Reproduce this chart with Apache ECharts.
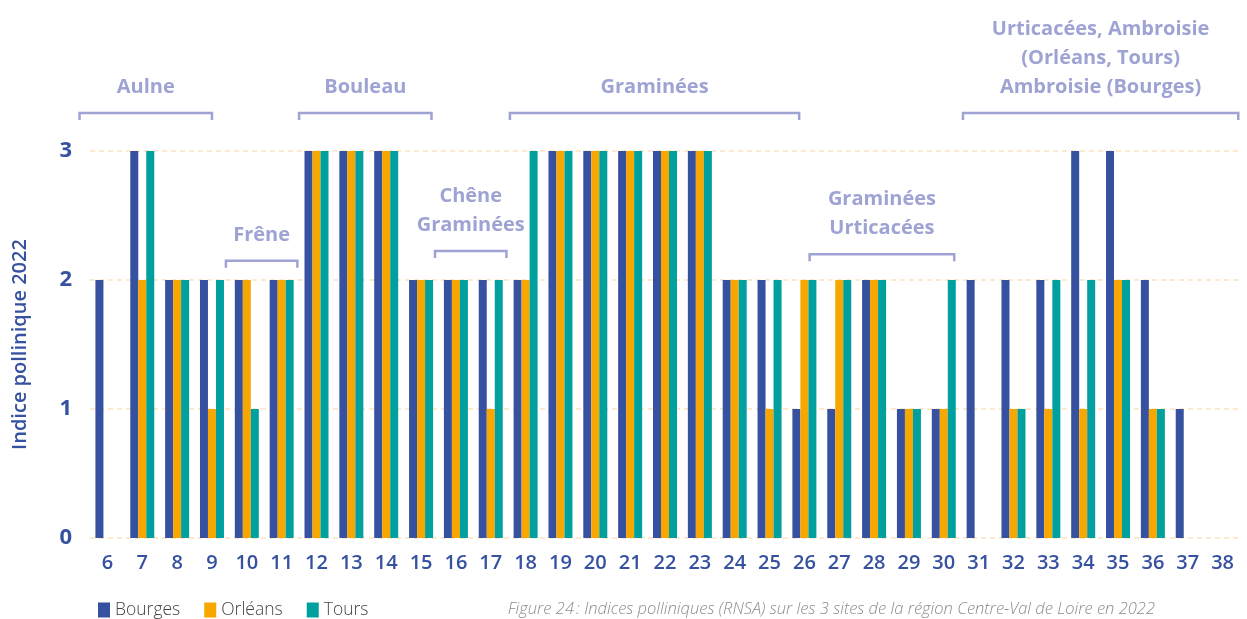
<!DOCTYPE html>
<html>
<head>
<meta charset="utf-8">
<script src="https://cdn.jsdelivr.net/npm/echarts@6/dist/echarts.min.js"></script>
<style>
html,body{margin:0;padding:0;background:#fff;}
#chart{width:1247px;height:619px;}
</style>
</head>
<body>
<div id="chart"></div>
<script>
// ---- Data ----
var weeks = ['6','7','8','9','10','11','12','13','14','15','16','17','18','19','20','21','22','23','24','25','26','27','28','29','30','31','32','33','34','35','36','37','38'];
var bourges = [2,3,2,2,2,2,3,3,3,2,2,2,2,3,3,3,3,3,2,2,1,1,2,1,1,2,2,2,3,3,2,1,0];
var orleans = [0,2,2,1,2,2,3,3,3,2,2,1,2,3,3,3,3,3,2,1,2,2,2,1,1,0,1,1,1,2,1,0,0];
var tours   = [0,3,2,2,1,2,3,3,3,2,2,2,3,3,3,3,3,3,2,2,2,2,2,1,2,0,1,2,2,2,1,0,0];
var yTicks = [0,1,2,3];
// annotation brackets: labels, start/end week (fractional), level on the value axis
var annotations = [
  {lines:['Aulne'], from:5.2, to:9.0, level:3.295},
  {lines:['Frêne'], from:9.4, to:11.45, level:2.15},
  {lines:['Bouleau'], from:11.5, to:15.3, level:3.295},
  {lines:['Chêne','Graminées'], from:15.4, to:17.45, level:2.225},
  {lines:['Graminées'], from:17.55, to:25.85, level:3.295},
  {lines:['Graminées','Urticacées'], from:26.15, to:30.3, level:2.2},
  {lines:['Urticacées, Ambroisie','(Orléans, Tours)','Ambroisie (Bourges)'], from:30.55, to:38.45, level:3.295}
];
var caption = 'Figure 24\u202F: Indices polliniques (RNSA) sur les 3 sites de la région Centre-Val de Loire en 2022';

var C_B = '#3551a0', C_O = '#f7a700', C_T = '#00a09e';
var ANN = '#9ea3d4';
var FONT = '"Open Sans", "Noto Sans", sans-serif';

var chart = echarts.init(document.getElementById('chart'), null, {renderer:'canvas'});

function barSeries(name, data, color){
  return {
    name:name, type:'bar', data:data, barWidth:8, barGap:'0%',
    itemStyle:{color:color}, emphasis:{disabled:true}
  };
}

var option = {
  animation:false,
  backgroundColor:'#fff',
  grid:{left:90, right:7, top:151, bottom:81, containLabel:false},
  legend:{
    left:93, top:596, itemWidth:12, itemHeight:15, itemGap:24,
    icon:'rect',
    textStyle:{fontFamily:FONT, fontSize:17.5, color:'#444', fontWeight:300},
    data:['Bourges','Orléans','Tours']
  },
  title:{
    text:caption, right:87, top:596,
    textStyle:{fontFamily:FONT, fontSize:16.5, fontStyle:'italic', fontWeight:300, color:'#8c8c8c'}
  },
  xAxis:{
    type:'category', data:weeks,
    axisLine:{show:false}, axisTick:{show:false},
    axisLabel:{fontFamily:FONT, fontSize:20, fontWeight:600, color:C_B, margin:15, interval:0}
  },
  yAxis:{
    type:'value', min:0, max:3, interval:1,
    name:'Indice pollinique 2022', nameLocation:'middle', nameGap:60,
    nameTextStyle:{fontFamily:FONT, fontSize:20, fontWeight:600, color:C_B},
    axisLine:{show:false}, axisTick:{show:false},
    axisLabel:{fontFamily:FONT, fontSize:22, fontWeight:700, color:C_B, margin:18,
      formatter:function(v){return yTicks.indexOf(v)>=0 ? String(v) : '';}},
    splitLine:{show:true, lineStyle:{color:'#fde2bd', type:[5,4], width:1.5}}
  },
  series:[barSeries('Bourges', bourges, C_B), barSeries('Orléans', orleans, C_O), barSeries('Tours', tours, C_T)]
};
chart.setOption(option);

// build annotation graphics from axis scales
var p0 = chart.convertToPixel({xAxisIndex:0}, 0);
var p1 = chart.convertToPixel({xAxisIndex:0}, 1);
var step = p1 - p0;
function wx(week){ return p0 + (week - 6) * step; }
var elements = [];
annotations.forEach(function(a){
  var y = chart.convertToPixel({yAxisIndex:0}, a.level);
  var x1 = wx(a.from), x2 = wx(a.to);
  elements.push({
    type:'polyline', silent:true,
    shape:{points:[[x1,y+7],[x1,y],[x2,y],[x2,y+7]]},
    style:{stroke:ANN, lineWidth:2.5, fill:null}
  });
  elements.push({
    type:'text', silent:true,
    style:{
      text:a.lines.join('\n'), x:(x1+x2)/2, y:y-11,
      align:'center', verticalAlign:'bottom',
      fontFamily:FONT, fontSize:20, fontWeight:700, lineHeight:29, fill:ANN
    }
  });
});
chart.setOption({graphic:{elements:elements}});
</script>
</body>
</html>
